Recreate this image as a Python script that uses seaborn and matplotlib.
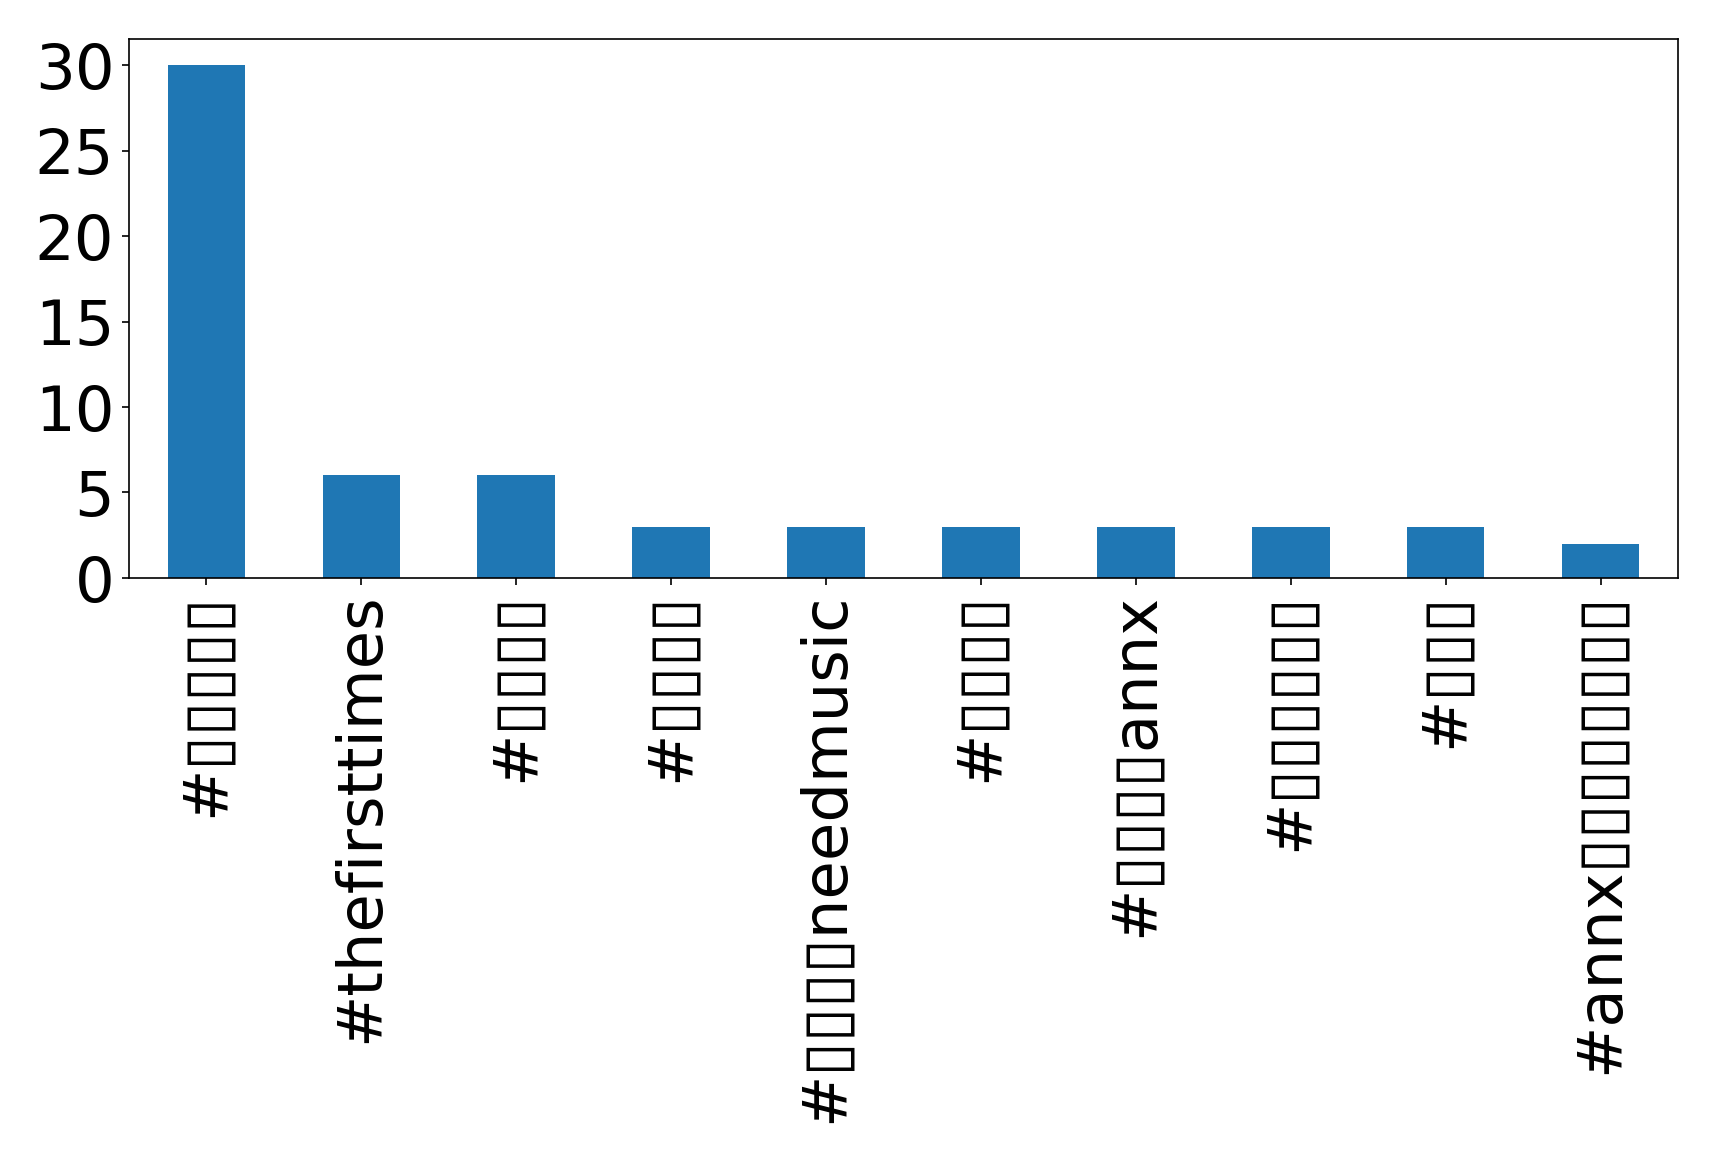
import numpy as np
import pandas as pd
import matplotlib
matplotlib.use("Agg")
import matplotlib.pyplot as plt
import seaborn as sns

# hashtag counts (non-latin glyphs show as boxes in the reference)
BOX = "\u25af"
hashtags = [
    "#" + BOX * 5,
    "#thefirsttimes",
    "#" + BOX * 4,
    "#" + BOX * 4,
    "#" + BOX * 4 + "needmusic",
    "#" + BOX * 4,
    "#" + BOX * 4 + "annx",
    "#" + BOX * 6,
    "#" + BOX * 3,
    "#annx" + BOX * 8,
]
counts = [30, 6, 6, 3, 3, 3, 3, 3, 3, 2]
y_ticks = [0, 5, 10, 15, 20, 25, 30]

plt.rcParams['font.family'] = ['DejaVu Sans']

df = pd.DataFrame({'rank': np.arange(len(hashtags)), 'tag': hashtags, 'count': counts})

fig = plt.figure(figsize=(11.46, 7.807), dpi=150)
ax = fig.add_axes([0.0750, 0.5064, 0.9012, 0.4599])

sns.barplot(data=df, x='rank', y='count', color='#1f77b4', saturation=1,
            width=0.5, ax=ax)

ax.set_xticklabels(df['tag'], rotation=90, fontsize=30)
ax.set_yticks(y_ticks)
ax.tick_params(axis='y', labelsize=30)
ax.set_xlabel('')
ax.set_ylabel('')
ax.set_xlim(-0.5, len(hashtags) - 0.5)
ax.set_ylim(0, 31.5)

fig.savefig('out.png', dpi=150)
